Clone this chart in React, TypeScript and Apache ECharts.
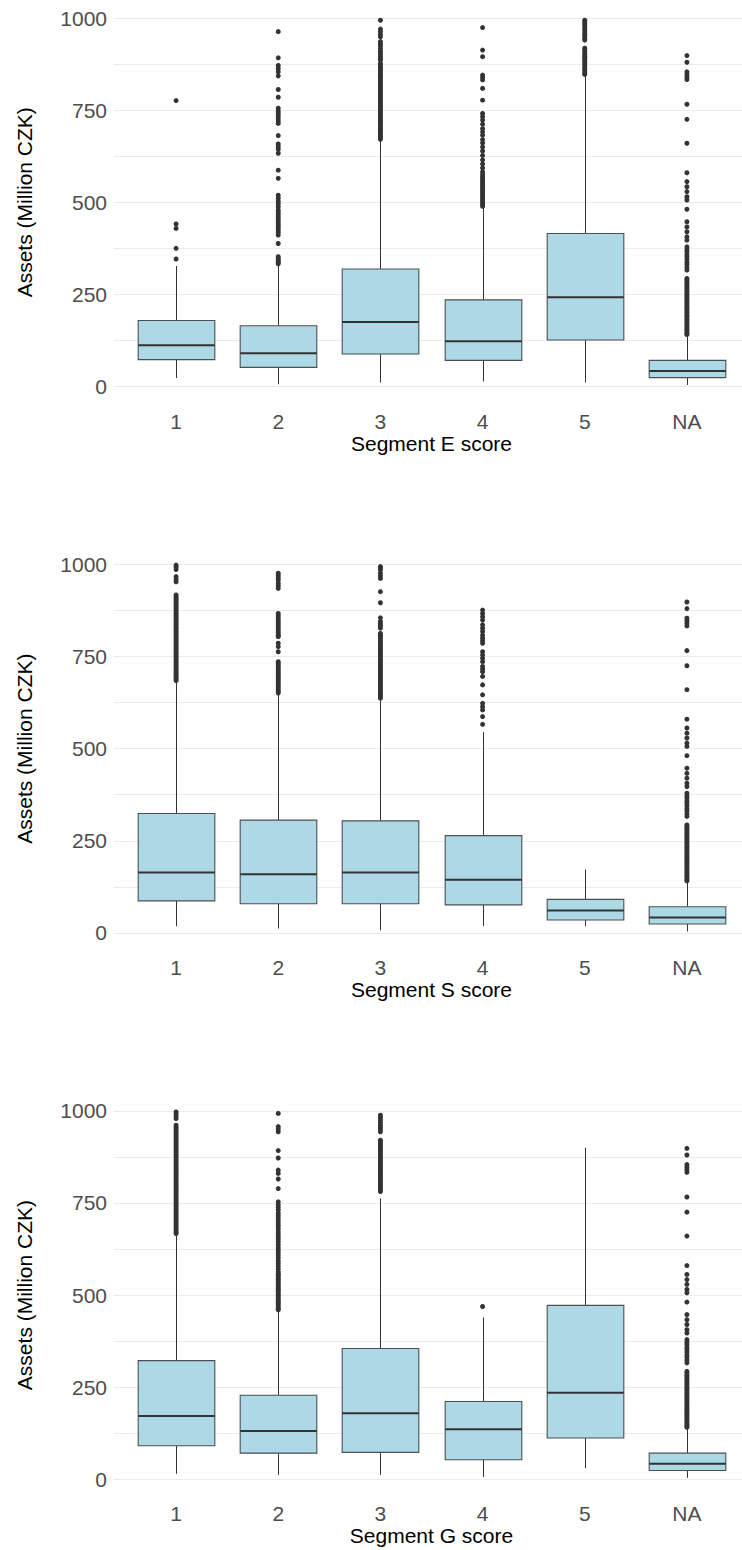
import React, { useEffect, useRef } from "react";
import * as echarts from "echarts";

// Score categories shared by all three panels
const CATEGORIES = ["1", "2", "3", "4", "5", "NA"];
const Y_TICKS = [0, 250, 500, 750, 1000];

// Box statistics per category: [lower whisker, Q1, median, Q3, upper whisker]
const E_STATS = [
  [23, 73, 112, 179, 327],
  [6, 52, 90, 165, 329],
  [11, 88, 175, 319, 669],
  [14, 71, 123, 235, 486],
  [11, 126, 242, 415, 845],
  [4, 24, 42, 71, 139],
];
const S_STATS = [
  [18, 87, 164, 324, 682],
  [12, 79, 159, 306, 649],
  [7, 79, 164, 304, 635],
  [19, 76, 144, 264, 545],
  [18, 35, 61, 91, 172],
  [4, 24, 42, 71, 139],
];
const G_STATS = [
  [15, 91, 172, 322, 665],
  [12, 71, 131, 228, 458],
  [12, 73, 179, 355, 762],
  [6, 53, 136, 211, 439],
  [30, 112, 235, 472, 900],
  [4, 24, 42, 71, 139],
];

// Outlying companies (assets above the upper whisker)
const NA_OUT = [898, 880, 854, 847, 840, 833, 766, 725, 660, 580, 556, 542, 529, 515, 506, 481, 447, 433, 420, 406, 397, 379, 372, 366, 358, 352, 345, 337, 331, 323, 316, 293, 289, 284, 280, 275, 270, 266, 261, 257, 252, 247, 243, 238, 234, 229, 225, 220, 216, 211, 207, 202, 198, 193, 189, 184, 180, 175, 171, 166, 162, 157, 153, 148, 144, 141];

const E1_OUT = [776, 441, 429, 375, 346];
const E2_OUT = [963, 892, 871, 863, 854, 843, 806, 785, 755, 747, 741, 734, 727, 720, 714, 681, 658, 651, 644, 633, 587, 565, 519, 511, 503, 496, 488, 479, 473, 467, 461, 455, 449, 443, 437, 431, 425, 418, 411, 388, 352, 347, 342, 337, 333];
const E3_OUT = [994, 970, 963, 955, 949, 936, 930, 924, 917, 910, 904, 897, 891, 886, 877, 873, 868, 864, 860, 856, 851, 847, 843, 839, 835, 830, 826, 822, 818, 814, 809, 805, 801, 797, 793, 788, 784, 780, 776, 772, 767, 763, 759, 755, 751, 746, 742, 738, 734, 730, 725, 721, 717, 713, 709, 704, 700, 696, 692, 688, 683, 679, 675, 671];
const E4_OUT = [974, 913, 895, 845, 839, 832, 809, 777, 741, 732, 723, 712, 700, 691, 682, 670, 661, 650, 639, 627, 615, 604, 593, 582, 575, 569, 564, 559, 554, 549, 544, 539, 534, 529, 524, 519, 514, 509, 504, 499, 494, 489];
const E5_OUT = [994, 989, 984, 979, 973, 968, 962, 956, 950, 944, 940, 918, 912, 906, 901, 896, 891, 886, 881, 876, 871, 866, 861, 856, 851, 847];

const S1_OUT = [998, 993, 986, 967, 960, 953, 917, 913, 908, 904, 899, 895, 890, 885, 881, 876, 872, 867, 862, 858, 853, 849, 844, 839, 835, 830, 826, 821, 817, 812, 807, 803, 798, 794, 789, 784, 780, 775, 771, 766, 761, 757, 752, 748, 743, 739, 734, 729, 725, 720, 716, 711, 706, 702, 698, 693, 689, 685];
const S2_OUT = [976, 970, 964, 958, 949, 942, 935, 867, 861, 855, 849, 843, 837, 831, 825, 819, 814, 808, 804, 786, 777, 763, 736, 731, 726, 721, 716, 711, 706, 701, 696, 691, 686, 681, 676, 671, 666, 661, 656, 651];
const S3_OUT = [994, 990, 985, 976, 969, 962, 926, 896, 855, 845, 839, 833, 827, 813, 808, 803, 798, 793, 789, 784, 779, 774, 769, 765, 760, 755, 750, 745, 741, 736, 731, 726, 721, 717, 712, 707, 702, 697, 693, 688, 683, 678, 673, 669, 664, 659, 654, 649, 645, 640, 637];
const S4_OUT = [876, 867, 858, 849, 836, 827, 818, 808, 800, 793, 786, 763, 754, 745, 736, 723, 716, 709, 696, 673, 646, 623, 614, 605, 587, 566];
const S5_OUT: number[] = [];

const G1_OUT = [997, 991, 985, 979, 961, 956, 951, 946, 941, 936, 931, 926, 921, 916, 911, 906, 901, 896, 891, 886, 881, 876, 871, 866, 861, 856, 851, 846, 841, 836, 831, 826, 821, 816, 811, 806, 801, 796, 791, 786, 781, 776, 771, 766, 761, 756, 751, 746, 741, 736, 731, 726, 721, 716, 711, 706, 701, 696, 691, 686, 681, 676, 671, 667];
const G2_OUT = [993, 957, 950, 943, 892, 872, 839, 830, 815, 789, 753, 745, 738, 731, 722, 715, 708, 700, 693, 686, 679, 671, 664, 657, 650, 643, 636, 628, 621, 614, 607, 600, 592, 585, 578, 571, 563, 558, 553, 548, 543, 538, 533, 528, 523, 518, 513, 508, 503, 498, 493, 488, 483, 478, 473, 468, 463, 460];
const G3_OUT = [988, 982, 975, 968, 961, 955, 949, 943, 920, 915, 910, 905, 900, 895, 890, 885, 880, 875, 870, 865, 860, 855, 850, 845, 840, 835, 830, 825, 820, 815, 810, 805, 800, 795, 790, 785, 781];
const G4_OUT = [469];
const G5_OUT: number[] = [];

const PANELS = [
  { title: "Segment E score", stats: E_STATS, outliers: [E1_OUT, E2_OUT, E3_OUT, E4_OUT, E5_OUT, NA_OUT] },
  { title: "Segment S score", stats: S_STATS, outliers: [S1_OUT, S2_OUT, S3_OUT, S4_OUT, S5_OUT, NA_OUT] },
  { title: "Segment G score", stats: G_STATS, outliers: [G1_OUT, G2_OUT, G3_OUT, G4_OUT, G5_OUT, NA_OUT] },
];

const FONT = "'Liberation Sans', Arial, sans-serif";
const BOX_FILL = "#ADD8E6";
const INK = "#333333";
const GRID_LINE = "#EBEBEB";

const PANEL_TOPS = [18, 564.4, 1110.8];
const PANEL_HEIGHT = 368.5;

function buildOption() {
  const grid: any[] = [];
  const xAxis: any[] = [];
  const yAxis: any[] = [];
  const series: any[] = [];

  PANELS.forEach((panel, p) => {
    const top = PANEL_TOPS[p];
    const boxGrid = p * 2;
    const lineGrid = p * 2 + 1;

    // grid carrying the boxes, the tick labels and the axis titles
    grid.push({ left: 125, width: 613, top, height: PANEL_HEIGHT });
    // wider background grid carrying the horizontal guide lines
    grid.push({ left: 114, right: 0, top, height: PANEL_HEIGHT });

    xAxis.push({
      type: "category",
      gridIndex: boxGrid,
      data: CATEGORIES,
      boundaryGap: true,
      axisLine: { show: false },
      axisTick: { show: false },
      splitLine: { show: false },
      axisLabel: { fontSize: 21, color: "#4D4D4D", fontFamily: FONT, margin: 24 },
      name: panel.title,
      nameLocation: "middle",
      nameGap: 46,
      nameTextStyle: { fontSize: 21, color: "#000000", fontFamily: FONT },
    });
    xAxis.push({ type: "value", gridIndex: lineGrid, show: false, min: 0, max: 1 });

    yAxis.push({
      type: "value",
      gridIndex: boxGrid,
      min: Y_TICKS[0],
      max: Y_TICKS[Y_TICKS.length - 1],
      interval: 250,
      axisLine: { show: false },
      axisTick: { show: false },
      splitLine: { show: false },
      axisLabel: {
        fontSize: 21,
        color: "#4D4D4D",
        fontFamily: FONT,
        margin: 18,
        formatter: (v: number) => String(v),
      },
      name: "Assets (Million CZK)",
      nameLocation: "middle",
      nameGap: 90,
      nameTextStyle: { fontSize: 21, color: "#000000", fontFamily: FONT },
    });
    yAxis.push({
      type: "value",
      gridIndex: lineGrid,
      min: 0,
      max: 1000,
      interval: 125,
      axisLine: { show: false },
      axisTick: { show: false },
      axisLabel: { show: false },
      splitLine: { show: true, lineStyle: { color: GRID_LINE, width: 1 } },
    });

    const boxData = panel.stats.map((s, i) => [i, ...s]);
    series.push({
      type: "custom",
      xAxisIndex: boxGrid,
      yAxisIndex: boxGrid,
      data: boxData,
      encode: { x: 0, y: [1, 2, 3, 4, 5] },
      z: 3,
      renderItem: (_params: any, api: any) => {
        const idx = api.value(0);
        const low = api.coord([idx, api.value(1)]);
        const q1 = api.coord([idx, api.value(2)]);
        const med = api.coord([idx, api.value(3)]);
        const q3 = api.coord([idx, api.value(4)]);
        const high = api.coord([idx, api.value(5)]);
        const band = api.size([1, 0])[0];
        const half = (band * 0.75) / 2;
        const cx = Math.round(low[0]) + 0.5;
        const lineStyle = { stroke: INK, lineWidth: 1 };
        return {
          type: "group",
          children: [
            { type: "line", shape: { x1: cx, y1: q3[1], x2: cx, y2: high[1] }, style: lineStyle },
            { type: "line", shape: { x1: cx, y1: q1[1], x2: cx, y2: low[1] }, style: lineStyle },
            {
              type: "rect",
              shape: { x: cx - half, y: q3[1], width: half * 2, height: q1[1] - q3[1] },
              style: { fill: BOX_FILL, stroke: "#4a4f52", lineWidth: 1.1 },
            },
            {
              type: "line",
              shape: { x1: cx - half, y1: med[1], x2: cx + half, y2: med[1] },
              style: { stroke: INK, lineWidth: 2 },
            },
          ],
        };
      },
    });

    const pts: number[][] = [];
    panel.outliers.forEach((list, i) => list.forEach((v) => pts.push([i, v])));
    series.push({
      type: "scatter",
      xAxisIndex: boxGrid,
      yAxisIndex: boxGrid,
      data: pts,
      symbol: "circle",
      symbolSize: 5,
      clip: false,
      z: 4,
      itemStyle: { color: INK, opacity: 1 },
    });
  });

  return {
    animation: false,
    backgroundColor: "#FFFFFF",
    textStyle: { fontFamily: FONT },
    grid,
    xAxis,
    yAxis,
    series,
  };
}

export default function App() {
  const ref = useRef<HTMLDivElement>(null);

  useEffect(() => {
    document.body.style.margin = "0";
    if (!ref.current) return;
    const chart = echarts.init(ref.current, undefined, { renderer: "svg" });
    chart.setOption(buildOption() as any);
    return () => chart.dispose();
  }, []);

  return <div ref={ref} style={{ width: 742, height: 1550 }} />;
}
